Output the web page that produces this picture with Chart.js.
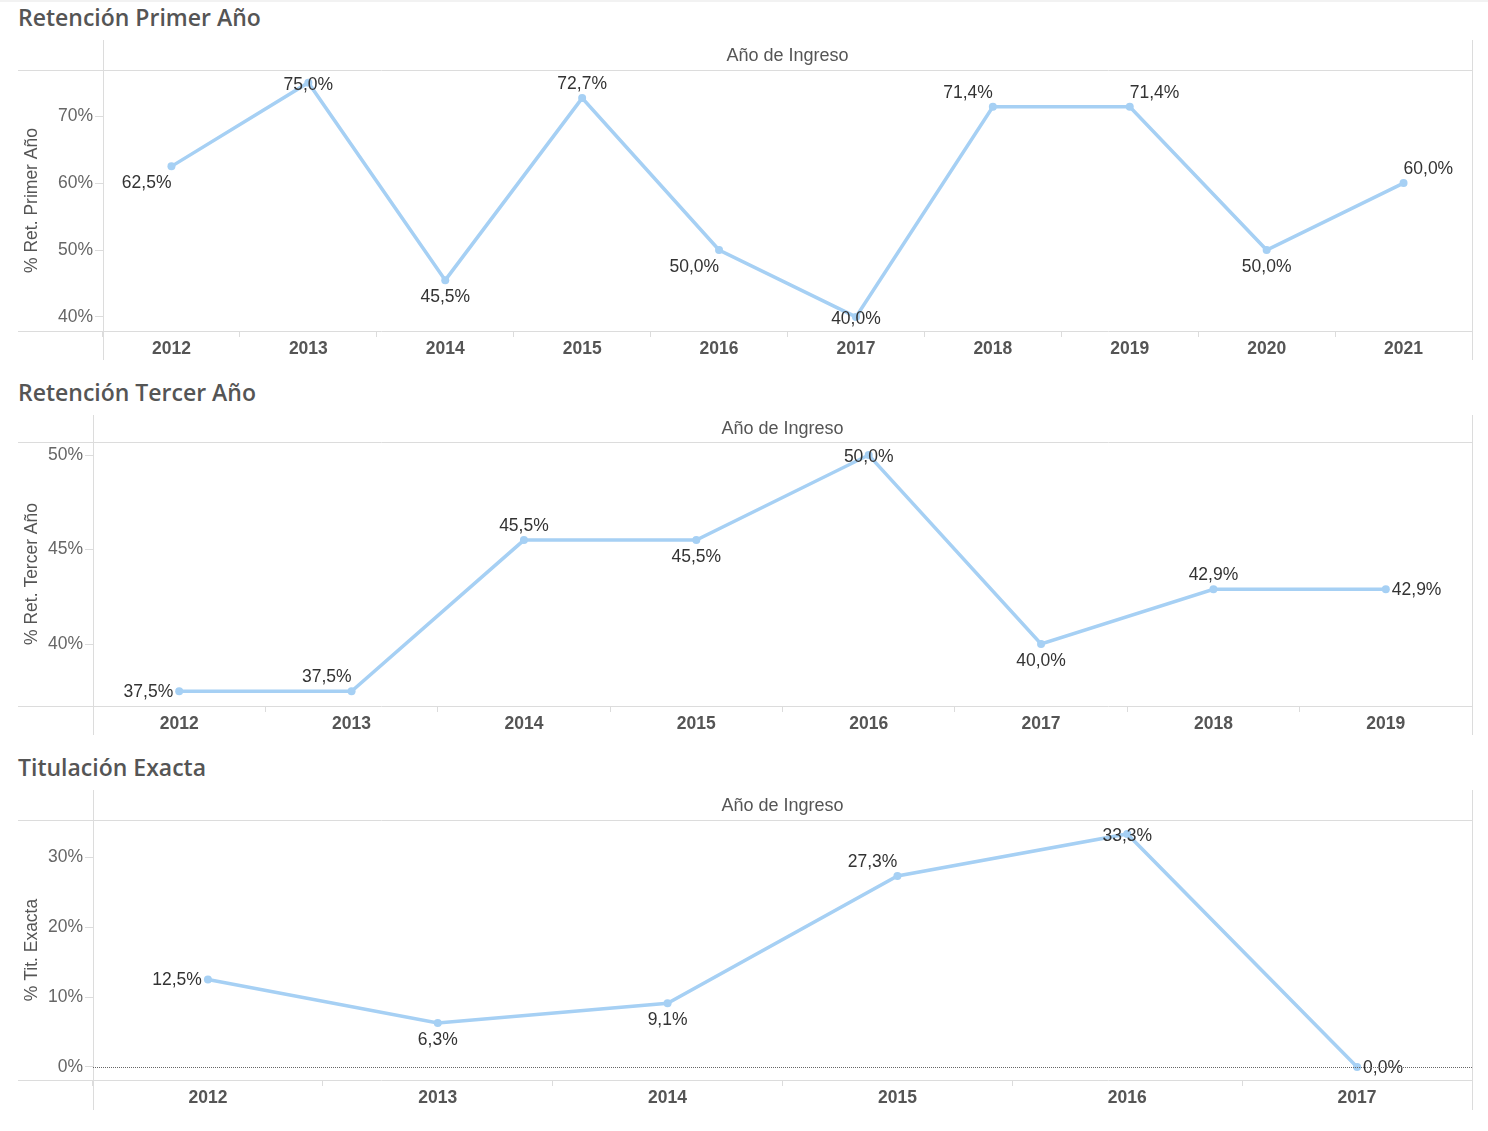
<!DOCTYPE html>
<html>
<head>
<meta charset="utf-8">
<script src="https://cdn.jsdelivr.net/npm/chart.js@4.4.0/dist/chart.umd.min.js"></script>
<style>
  body { margin: 0; background: #fff; width: 1488px; height: 1131px; position: relative; overflow: hidden; }
  .topline { position: absolute; left: 0; top: 0; width: 1488px; height: 2px; background: #f2f2f2; }
  .title { position: absolute; left: 18px; font-family: "Open Sans", sans-serif; font-weight: 600; font-size: 23px; color: #555; line-height: 1; }
  .panel { position: absolute; left: 0; width: 1488px; height: 340px; }
</style>
</head>
<body>
<div class="topline"></div>
<div class="title" style="top:6px">Retención Primer Año</div>
<div class="panel" style="top:30px"><canvas id="c1"></canvas></div>
<div class="title" style="top:381px">Retención Tercer Año</div>
<div class="panel" style="top:405px"><canvas id="c2"></canvas></div>
<div class="title" style="top:756px">Titulación Exacta</div>
<div class="panel" style="top:780px"><canvas id="c3"></canvas></div>
<script>
// data
const years1 = ["2012", "2013", "2014", "2015", "2016", "2017", "2018", "2019", "2020", "2021"];
const retPrimer = [62.5, 75.0, 45.5, 72.7, 50.0, 40.0, 71.4, 71.4, 50.0, 60.0];
const ticks1 = [40, 50, 60, 70];

const years2 = ["2012", "2013", "2014", "2015", "2016", "2017", "2018", "2019"];
const retTercer = [37.5, 37.5, 45.5, 45.5, 50.0, 40.0, 42.9, 42.9];
const ticks2 = [40, 45, 50];

const years3 = ["2012", "2013", "2014", "2015", "2016", "2017"];
const titExacta = [12.5, 6.3, 9.1, 27.3, 33.3, 0.0];
const ticks3 = [0, 10, 20, 30];

// where each value label sits relative to its point
const place1 = ["bl", "c", "b", "t", "bl", "c", "tl", "tr", "b", "tr"];
const place2 = ["l", "tl", "t", "b", "c", "b", "t", "r"];
const place3 = ["l", "b", "b", "tl", "c", "r"];

const FONT = '"Liberation Sans", Arial, sans-serif';
const LINE = "#a6d0f4";
const GRID = "#dcdcdc";

const fmt = v => v.toFixed(1).replace(".", ",") + "%";

const framePlugin = {
  id: "frame",
  afterDraw(chart, args, opts) {
    const { ctx, chartArea: a, scales } = chart;
    const top = 10, ext = a.bottom + opts.below;
    ctx.save();
    ctx.strokeStyle = GRID;
    ctx.lineWidth = 1;
    ctx.beginPath();
    ctx.moveTo(18, a.top + 0.5); ctx.lineTo(a.right, a.top + 0.5);
    ctx.moveTo(18, a.bottom + 0.5); ctx.lineTo(a.right, a.bottom + 0.5);
    ctx.moveTo(a.left + 0.5, top); ctx.lineTo(a.left + 0.5, ext);
    ctx.moveTo(a.right + 0.5, top); ctx.lineTo(a.right + 0.5, ext);
    ctx.stroke();
    if (opts.zero) {
      const y = Math.round(scales.y.getPixelForValue(0)) + 0.5;
      ctx.strokeStyle = "#666";
      ctx.setLineDash([1, 1]);
      ctx.beginPath();
      ctx.moveTo(a.left, y); ctx.lineTo(a.right, y);
      ctx.stroke();
      ctx.setLineDash([]);
    }
    ctx.fillStyle = "#555";
    ctx.font = "18px " + FONT;
    ctx.textAlign = "center";
    ctx.textBaseline = "middle";
    ctx.fillText("Año de Ingreso", (a.left + a.right) / 2, (top + a.top) / 2 + 1);
    ctx.restore();
  },
};

const labelPlugin = {
  id: "valueLabels",
  afterDatasetsDraw(chart, args, opts) {
    const { ctx } = chart;
    const meta = chart.getDatasetMeta(0);
    const data = chart.data.datasets[0].data;
    ctx.save();
    ctx.font = "17.5px " + FONT;
    ctx.fillStyle = "#333";
    ctx.textBaseline = "middle";
    meta.data.forEach((pt, i) => {
      const p = opts.place[i];
      let x = pt.x, y = pt.y + 1, align = "center";
      if (p === "l") { x -= 6; align = "right"; }
      if (p === "r") { x += 6; align = "left"; }
      if (p === "t") { y -= 15; }
      if (p === "b") { y += 16; }
      if (p === "tl") { y -= 15; align = "right"; }
      if (p === "tr") { y -= 15; align = "left"; }
      if (p === "bl") { y += 16; align = "right"; }
      if (p === "c") { y += 1; }
      ctx.textAlign = align;
      ctx.fillText(fmt(data[i]), x, y);
    });
    ctx.restore();
  },
};

function makeChart(id, labels, values, tickVals, yMin, yMax, yTitle, place, opt) {
  return new Chart(document.getElementById(id), {
    type: "line",
    data: {
      labels: labels,
      datasets: [{
        data: values,
        borderColor: LINE,
        backgroundColor: LINE,
        borderWidth: 3.5,
        pointRadius: 4,
        pointBackgroundColor: LINE,
        pointBorderWidth: 0,
        tension: 0,
      }],
    },
    options: {
      responsive: true,
      maintainAspectRatio: false,
      animation: false,
      layout: { padding: { top: opt.padTop, right: 16, left: 0, bottom: 0 } },
      plugins: {
        legend: { display: false },
        tooltip: { enabled: false },
        frame: { below: opt.below, zero: opt.zero },
        valueLabels: { place: place },
      },
      scales: {
        x: {
          type: "category",
          offset: true,
          grid: { offset: true, drawOnChartArea: false, color: GRID, tickLength: 6 },
          border: { display: false },
          ticks: { font: { family: FONT, size: 17.5, weight: "bold" }, color: "#555", padding: 2, maxRotation: 0 },
          afterFit: s => { s.height = opt.xH; },
        },
        y: {
          min: yMin,
          max: yMax,
          grid: { drawOnChartArea: false, color: GRID, tickLength: 8 },
          border: { display: false },
          ticks: { font: { family: FONT, size: 17.5 }, color: "#666", padding: 2, callback: v => v + "%" },
          afterBuildTicks: s => { s.ticks = tickVals.map(v => ({ value: v })); },
          title: { display: true, text: yTitle, font: { family: FONT, size: 17.5 }, color: "#555", padding: { top: 22, bottom: 0 } },
          afterFit: s => { s.width = opt.yW; },
        },
      },
    },
    plugins: [framePlugin, labelPlugin],
  });
}

makeChart("c1", years1, retPrimer, ticks1, 37.9, 76.9, "% Ret. Primer Año", place1,
  { padTop: 40, xH: 39, yW: 103, below: 29, zero: false });
makeChart("c2", years2, retTercer, ticks2, 36.72, 50.69, "% Ret. Tercer Año", place2,
  { padTop: 37, xH: 39, yW: 93, below: 29, zero: false });
makeChart("c3", years3, titExacta, ticks3, -1.86, 35.3, "% Tit. Exacta", place3,
  { padTop: 40, xH: 40, yW: 93, below: 30, zero: true });
</script>
</body>
</html>
